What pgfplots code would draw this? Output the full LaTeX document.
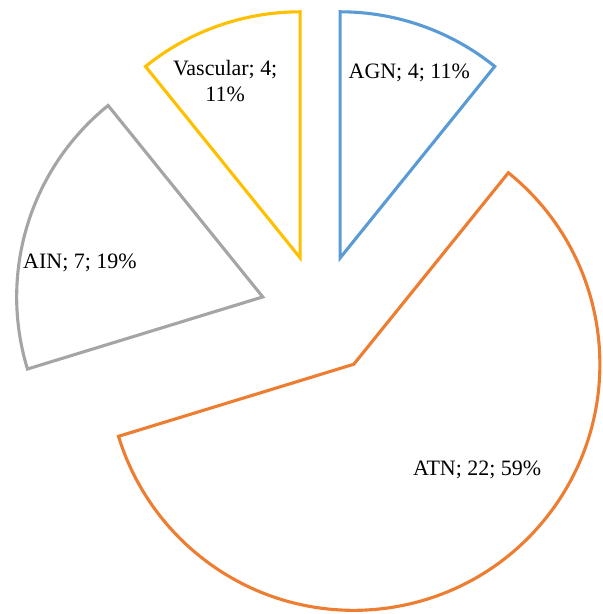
\documentclass[border=0pt]{standalone}
\usepackage{pgfplots}
\pgfplotsset{compat=1.18}
\usepackage{pgfplotstable}
\usepackage{fontspec}
\setmainfont{Liberation Serif}
\definecolor{cAGN}{HTML}{5B9BD5}
\definecolor{cATN}{HTML}{ED7D31}
\definecolor{cAIN}{HTML}{A5A5A5}
\definecolor{cVas}{HTML}{FFC000}
\begin{document}
\begin{tikzpicture}
\begin{axis}[
  hide axis, x=5cm, y=5cm, clip=false,
  xmin=-1.301, xmax=1.146, ymin=-1.217, ymax=1.278,
  enlargelimits=false, scale only axis,
]
% value, colour, label position (axis units, pie radius = 1)
\addplot[draw=none] coordinates {(0,0)};
\pgfplotsextra{
  \coordinate (BL) at (axis cs:-1.301,-1.217);
  \coordinate (TR) at (axis cs:1.146,1.278);
  \def\total{37}
  \def\expl{0.244}
  \def\startang{90}
  \foreach \val/\col/\lx/\ly/\txt in {
      4/cAGN/0.362/0.982/{AGN; 4; 11\%},
      22/cATN/0.638/-0.632/{ATN; 22; 59\%},
      7/cAIN/-0.976/0.209/{AIN; 7; 19\%},
      4/cVas/-0.386/0.949/{Vascular; 4;\\11\%}} {
    \pgfmathsetmacro{\sweep}{\val/\total*360}
    \pgfmathsetmacro{\endang}{\startang-\sweep}
    \pgfmathsetmacro{\midang}{\startang-\sweep/2}
    \pgfmathsetmacro{\ax}{\expl*cos(\midang)}
    \pgfmathsetmacro{\ay}{\expl*sin(\midang)}
    \pgfmathsetmacro{\bx}{\ax+cos(\startang)}
    \pgfmathsetmacro{\by}{\ay+sin(\startang)}
    \draw[\col, line width=1.8pt, line join=miter]
      (axis cs:\ax,\ay) -- (axis cs:\bx,\by)
      arc[start angle=\startang, end angle=\endang, radius=5cm] -- cycle;
    \node[align=center, font=\fontsize{12.7}{15}\selectfont, text=black, inner sep=0pt]
      at (axis cs:\lx,\ly) {\txt};
    \xdef\startang{\endang}
  }
}
\end{axis}
\pgfresetboundingbox
\useasboundingbox (BL) rectangle (TR);
\end{tikzpicture}
\end{document}
